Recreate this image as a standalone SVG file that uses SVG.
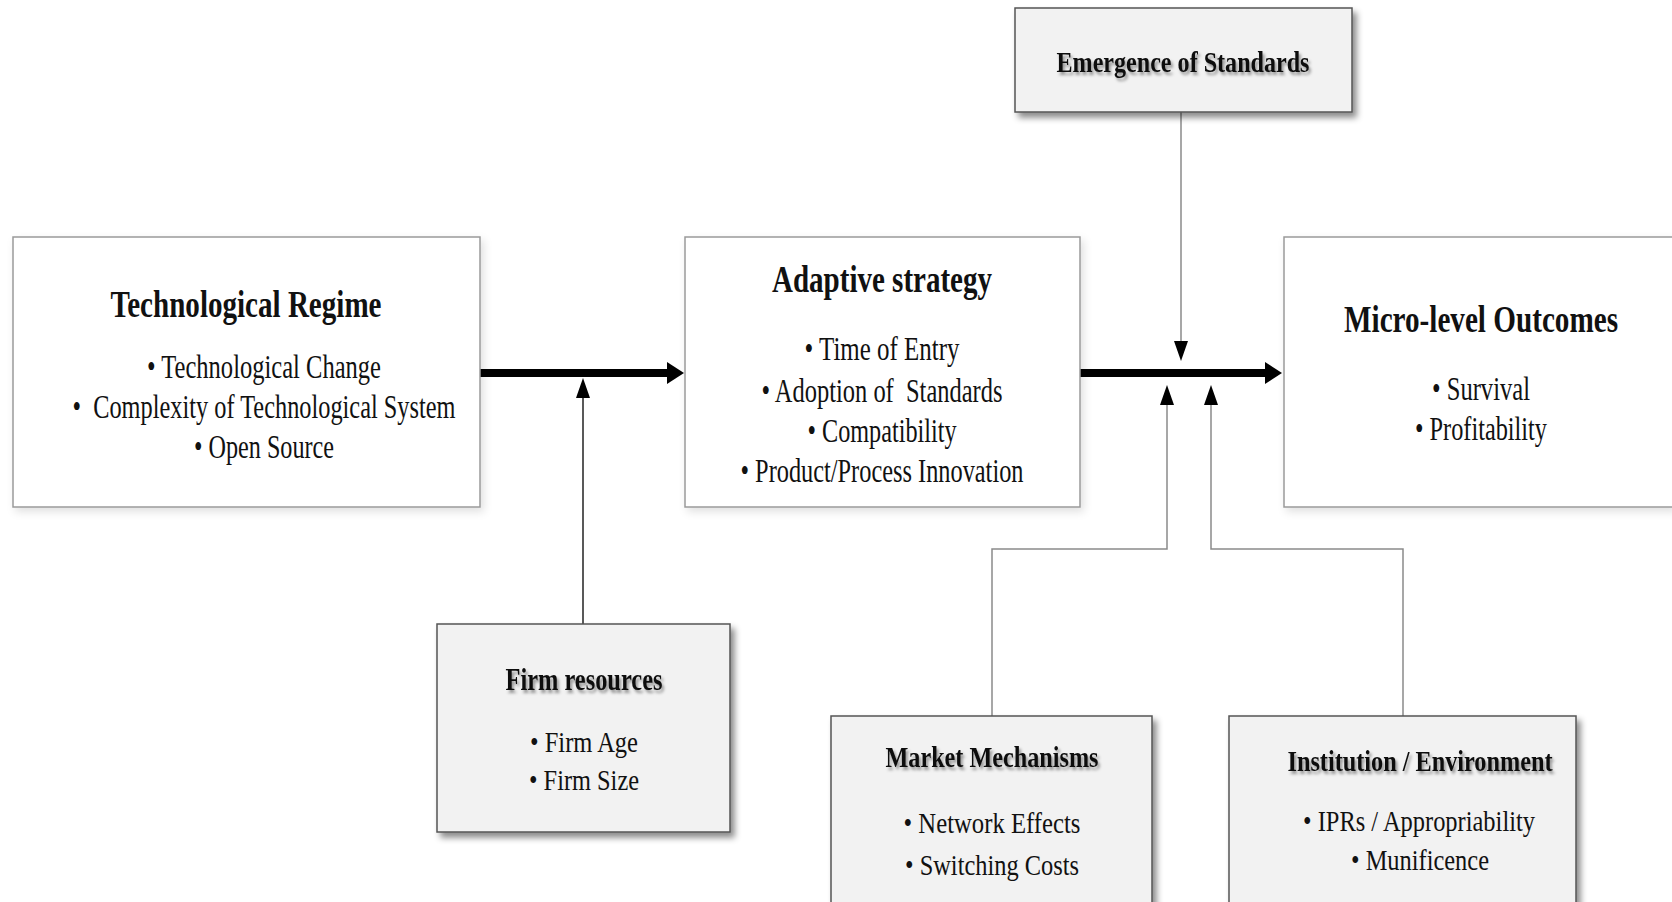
<svg xmlns="http://www.w3.org/2000/svg" width="1672" height="902" viewBox="0 0 1672 902">
<style>
  text { font-family: "Liberation Serif", "Times New Roman", serif; fill: #111; text-anchor: middle; }
  .t { font-weight: bold; }
  .white { fill: #ffffff; stroke: #9a9a9a; stroke-width: 1.5; filter: url(#soft); }
  .gray { fill: #f2f2f2; stroke: #555; stroke-width: 1.5; filter: url(#drop); }
  .sh { filter: url(#tshadow); }
  .thick { stroke: #000; stroke-width: 8; fill: none; }
  .thin { stroke: #8a8a8a; stroke-width: 1.5; fill: none; }
  .thindark { stroke: #222; stroke-width: 1.5; fill: none; }
</style>
<defs>
  <filter id="soft" x="-5%" y="-5%" width="112%" height="115%">
    <feDropShadow dx="3" dy="4" stdDeviation="4" flood-color="#000" flood-opacity="0.12"/>
  </filter>
  <filter id="drop" x="-5%" y="-5%" width="115%" height="120%">
    <feDropShadow dx="4" dy="5" stdDeviation="3" flood-color="#000" flood-opacity="0.45"/>
  </filter>
  <filter id="tshadow" x="-5%" y="-20%" width="112%" height="160%">
    <feDropShadow dx="2" dy="3" stdDeviation="1.5" flood-color="#000" flood-opacity="0.4"/>
  </filter>
  <marker id="bigArrow" markerUnits="userSpaceOnUse" markerWidth="18" markerHeight="22" refX="1" refY="11" orient="auto">
    <path d="M0,0 L17,11 L0,22 z" fill="#000"/>
  </marker>
  <marker id="smallArrow" markerUnits="userSpaceOnUse" markerWidth="20" markerHeight="14" refX="1" refY="7" orient="auto">
    <path d="M0,0 L20,7 L0,14 z" fill="#000"/>
  </marker>
</defs>

<g id="connectors">
  <line class="thick" x1="480" y1="373" x2="668" y2="373" marker-end="url(#bigArrow)"/>
  <line class="thick" x1="1080" y1="373" x2="1266" y2="373" marker-end="url(#bigArrow)"/>
  <line class="thindark" x1="583" y1="624" x2="583" y2="397" marker-end="url(#smallArrow)"/>
  <line class="thin" x1="1181" y1="112" x2="1181" y2="342" marker-end="url(#smallArrow)"/>
  <polyline class="thin" points="992,716 992,549 1167,549 1167,404" marker-end="url(#smallArrow)"/>
  <polyline class="thin" points="1403,716 1403,549 1211,549 1211,404" marker-end="url(#smallArrow)"/>
</g>

<g id="node-technological-regime">
  <rect class="white" x="13" y="237" width="467" height="270"/>
  <text class="t" x="246" y="317" font-size="38" textLength="271" lengthAdjust="spacingAndGlyphs">Technological Regime</text>
  <text x="264" y="378" font-size="33" textLength="234" lengthAdjust="spacingAndGlyphs">• Technological Change</text>
  <text x="264" y="418" font-size="33" textLength="383" lengthAdjust="spacingAndGlyphs">•&#160; Complexity of Technological System</text>
  <text x="264" y="458" font-size="33" textLength="140" lengthAdjust="spacingAndGlyphs">• Open Source</text>
</g>

<g id="node-adaptive-strategy">
  <rect class="white" x="685" y="237" width="395" height="270"/>
  <text class="t" x="882" y="292" font-size="38" textLength="220" lengthAdjust="spacingAndGlyphs">Adaptive strategy</text>
  <text x="882" y="360" font-size="33" textLength="155" lengthAdjust="spacingAndGlyphs">• Time of Entry</text>
  <text x="882" y="402" font-size="33" textLength="241" lengthAdjust="spacingAndGlyphs">• Adoption of&#160; Standards</text>
  <text x="882" y="442" font-size="33" textLength="149" lengthAdjust="spacingAndGlyphs">• Compatibility</text>
  <text x="882" y="482" font-size="33" textLength="283" lengthAdjust="spacingAndGlyphs">• Product/Process Innovation</text>
</g>

<g id="node-emergence-of-standards">
  <rect class="gray" x="1015" y="8" width="337" height="104"/>
  <text class="t sh" x="1183" y="72" font-size="30" textLength="253" lengthAdjust="spacingAndGlyphs">Emergence of Standards</text>
</g>

<g id="node-micro-level-outcomes">
  <rect class="white" x="1284" y="237" width="390" height="270"/>
  <text class="t" x="1481" y="332" font-size="38" textLength="274" lengthAdjust="spacingAndGlyphs">Micro-level Outcomes</text>
  <text x="1481" y="400" font-size="33" textLength="98" lengthAdjust="spacingAndGlyphs">• Survival</text>
  <text x="1481" y="440" font-size="33" textLength="132" lengthAdjust="spacingAndGlyphs">• Profitability</text>
</g>

<g id="node-firm-resources">
  <rect class="gray" x="437" y="624" width="293" height="208"/>
  <text class="t sh" x="584" y="690" font-size="32" textLength="157" lengthAdjust="spacingAndGlyphs">Firm resources</text>
  <text x="584" y="752" font-size="30" textLength="108" lengthAdjust="spacingAndGlyphs">• Firm Age</text>
  <text x="584" y="790" font-size="30" textLength="110" lengthAdjust="spacingAndGlyphs">• Firm Size</text>
</g>

<g id="node-market-mechanisms">
  <rect class="gray" x="831" y="716" width="321" height="200"/>
  <text class="t sh" x="992" y="767" font-size="30" textLength="213" lengthAdjust="spacingAndGlyphs">Market Mechanisms</text>
  <text x="992" y="833" font-size="30" textLength="177" lengthAdjust="spacingAndGlyphs">• Network Effects</text>
  <text x="992" y="875" font-size="30" textLength="174" lengthAdjust="spacingAndGlyphs">• Switching Costs</text>
</g>

<g id="node-institution-environment">
  <rect class="gray" x="1229" y="716" width="347" height="200"/>
  <text class="t sh" x="1420" y="771" font-size="30" textLength="265" lengthAdjust="spacingAndGlyphs">Institution / Environment</text>
  <text x="1419" y="831" font-size="30" textLength="232" lengthAdjust="spacingAndGlyphs">• IPRs / Appropriability</text>
  <text x="1420" y="870" font-size="30" textLength="138" lengthAdjust="spacingAndGlyphs">• Munificence</text>
</g>
</svg>
